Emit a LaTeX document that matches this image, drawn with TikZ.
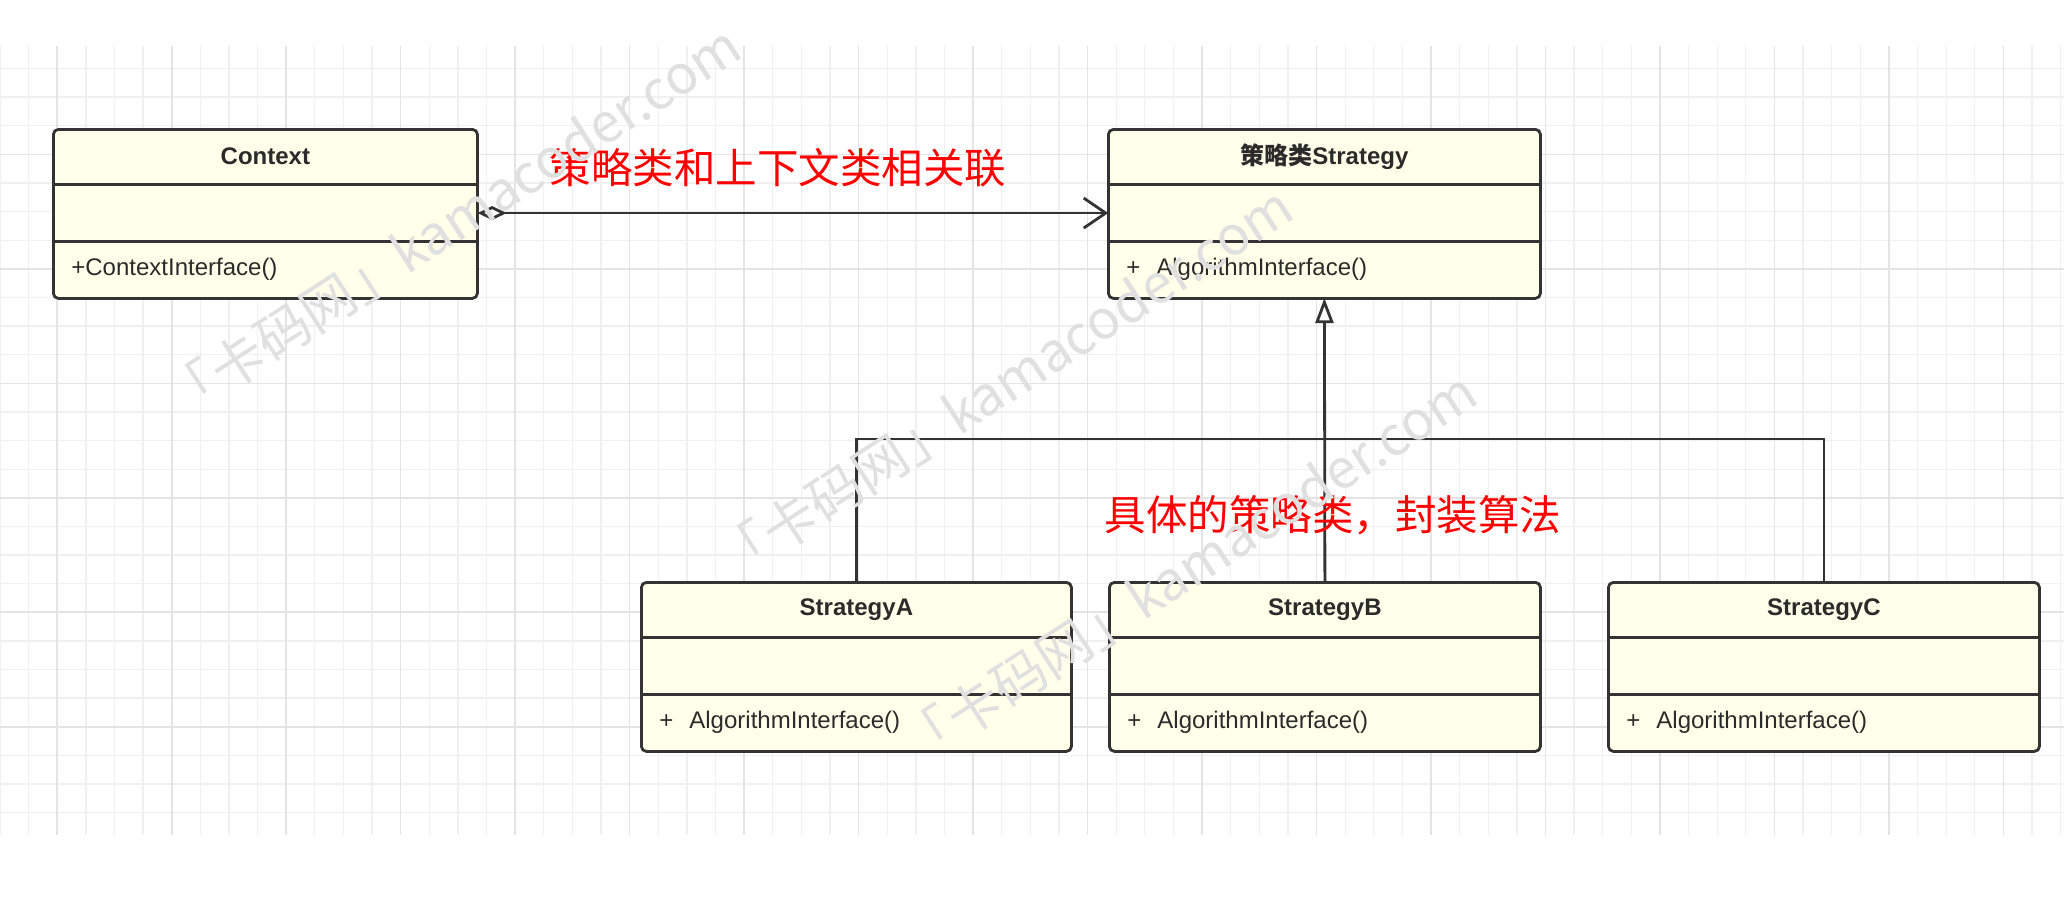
\documentclass[tikz,border=0pt]{standalone}
\usepackage{fontspec}
\setmainfont{Liberation Sans}
\newfontfamily\cjk{Noto Sans CJK SC}
\usepackage{tikz}
\usetikzlibrary{arrows.meta, positioning}
\definecolor{umlfill}{HTML}{FFFFEA}
\definecolor{umlline}{HTML}{333333}
\definecolor{umltext}{HTML}{2B2B2B}
\definecolor{gridminor}{HTML}{F0F0F0}
\definecolor{gridmajor}{HTML}{E4E4E4}
\definecolor{notered}{HTML}{FF0000}
\definecolor{markgray}{HTML}{E0E0E0}

\begin{document}
\begin{tikzpicture}[x=1pt, y=-1pt,
  clsbox/.style={draw=umlline, fill=umlfill, line width=2.8pt, rounded corners=5pt, inner sep=0pt, minimum height=169pt},
  part/.style={inner sep=0pt, minimum height=56.3pt, text=umltext, font=\fontsize{24}{28}\selectfont},
  head/.style={part, font=\bfseries\fontsize{24}{28}\selectfont},
  meth/.style={part, align=left, inner xsep=18pt},
  divider/.style={draw=umlline, line width=2.8pt},
  link/.style={draw=umlline, line width=2.8pt},
  assoc/.style={link, {Diamond[fill=white, length=29pt, width=14pt]}-{Straight Barb[length=22pt, width=30pt]}},
  inherit/.style={link, -{Triangle[fill=white, length=25pt, width=18pt]}},
  note/.style={text=notered, font=\cjk\fontsize{41.5}{48}\selectfont, inner sep=0pt},
  wmark/.style={text=markgray, font=\cjk\fontsize{54}{60}\selectfont, inner sep=0pt, rotate=33},
  gridline/.style={draw=gridminor, line width=1.3pt},
  gridbold/.style={draw=gridmajor, line width=1.6pt},
]
  \useasboundingbox (0,0) rectangle (2064,916);
  \fill[white] (0,0) rectangle (2064,916);

  % Grid
  \foreach \i in {0,...,72} \draw[gridline] (\i*28.62,46) -- (\i*28.62,835);
  \foreach \j in {-11,...,15} \draw[gridline] (0,383.3+\j*28.62) -- (2064,383.3+\j*28.62);
  \foreach \i in {2,6,...,70} \draw[gridbold] (\i*28.62,46) -- (\i*28.62,835);
  \foreach \j in {-8,-4,...,12} \draw[gridbold] (0,383.3+\j*28.62) -- (2064,383.3+\j*28.62);

  % Context
  \node[clsbox, minimum width=424pt, anchor=north west] (ctx) at (52,128) {};
  \node[head, minimum width=424pt, below=0pt of ctx.north] (ctxhead) {Context};
  \node[part, minimum width=424pt, below=0pt of ctxhead] (ctxattr) {};
  \node[meth, text width=388pt, below=0pt of ctxattr] (ctxmeth) {+ContextInterface()};
  \draw[divider] (ctxattr.north west) -- (ctxattr.north east);
  \draw[divider] (ctxmeth.north west) -- (ctxmeth.north east);

  % Strategy
  \node[clsbox, minimum width=432pt, anchor=north west] (strat) at (1107,128) {};
  \node[head, minimum width=432pt, below=0pt of strat.north] (strathead) {{\cjk 策略类}Strategy};
  \node[part, minimum width=432pt, below=0pt of strathead] (stratattr) {};
  \node[meth, text width=396pt, below=0pt of stratattr] (stratmeth) {+\ \ AlgorithmInterface()};
  \draw[divider] (stratattr.north west) -- (stratattr.north east);
  \draw[divider] (stratmeth.north west) -- (stratmeth.north east);

  % StrategyA
  \node[clsbox, minimum width=430pt, anchor=north west] (stra) at (640,581) {};
  \node[head, minimum width=430pt, below=0pt of stra.north] (strahead) {StrategyA};
  \node[part, minimum width=430pt, below=0pt of strahead] (straattr) {};
  \node[meth, text width=394pt, below=0pt of straattr] (strameth) {+\ \ AlgorithmInterface()};
  \draw[divider] (straattr.north west) -- (straattr.north east);
  \draw[divider] (strameth.north west) -- (strameth.north east);

  % StrategyB
  \node[clsbox, minimum width=431pt, anchor=north west] (strb) at (1108,581) {};
  \node[head, minimum width=431pt, below=0pt of strb.north] (strbhead) {StrategyB};
  \node[part, minimum width=431pt, below=0pt of strbhead] (strbattr) {};
  \node[meth, text width=395pt, below=0pt of strbattr] (strbmeth) {+\ \ AlgorithmInterface()};
  \draw[divider] (strbattr.north west) -- (strbattr.north east);
  \draw[divider] (strbmeth.north west) -- (strbmeth.north east);

  % StrategyC
  \node[clsbox, minimum width=431pt, anchor=north west] (strc) at (1607,581) {};
  \node[head, minimum width=431pt, below=0pt of strc.north] (strchead) {StrategyC};
  \node[part, minimum width=431pt, below=0pt of strchead] (strcattr) {};
  \node[meth, text width=395pt, below=0pt of strcattr] (strcmeth) {+\ \ AlgorithmInterface()};
  \draw[divider] (strcattr.north west) -- (strcattr.north east);
  \draw[divider] (strcmeth.north west) -- (strcmeth.north east);

  % Connectors
  \draw[assoc] (ctxattr.east) -- (stratattr.west);
  \coordinate (bus) at (1323,439);
  \draw[link] (strahead.north) |- (bus) -| (strchead.north);
  \draw[inherit] (strbhead.north) -- (stratmeth.south);

  % Notes
  \node[note] (assoclabel) at (778,168) {策略类和上下文类相关联};
  \node[note] (implabel) at (1333,515) {具体的策略类，封装算法};

  % Watermarks
  \node[wmark] (wm1) at (452,222) {「卡码网」kamacoder.com};
  \node[wmark] (wm2) at (1004,383) {「卡码网」kamacoder.com};
  \node[wmark] (wm3) at (1188,568) {「卡码网」kamacoder.com};
\end{tikzpicture}
\end{document}
